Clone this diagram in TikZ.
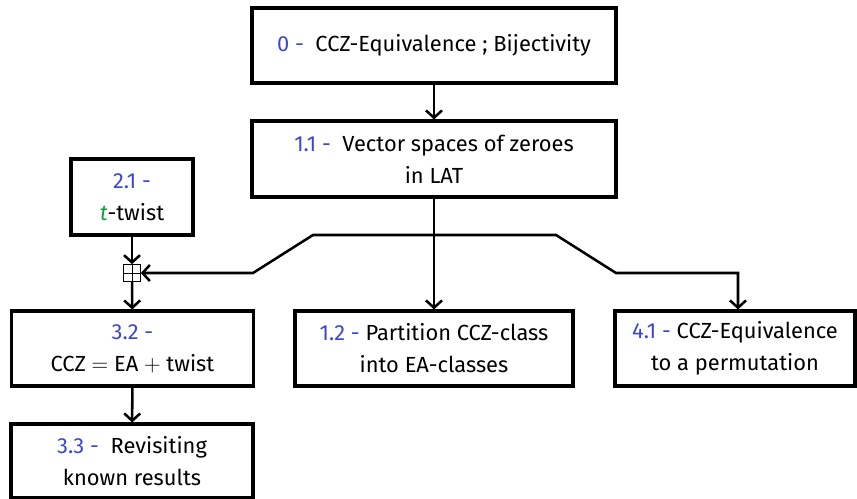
\documentclass[tikz,border=0pt]{standalone}
\usepackage{fontspec}
\setmainfont{Fira Sans}
\usepackage{amssymb}
\usetikzlibrary{arrows.meta}
\definecolor{numblue}{RGB}{60,70,210}
\definecolor{tgreen}{RGB}{20,160,60}
\newcommand{\num}[1]{\textcolor{numblue}{#1}}
\begin{document}
\begin{tikzpicture}[x=0.75pt,y=-0.75pt,
  box/.style={draw,line width=2.3pt,align=center,inner sep=0pt,font=\fontsize{16.4pt}{24pt}\selectfont},
  tip/.tip={Straight Barb[length=5.5pt,width=12pt,line width=1.9pt]},
  arr/.style={line width=1.9pt,-tip},
  conn/.style={line width=1.9pt},
  bplus/.style={draw,line width=0.7pt,minimum width=12.5pt,minimum height=12.5pt,inner sep=0pt,
    path picture={\draw[line width=0.7pt] (path picture bounding box.north) -- (path picture bounding box.south)
      (path picture bounding box.west) -- (path picture bounding box.east);}}]
\useasboundingbox (0,0) rectangle (857,499);
\node[box,minimum width=273pt,minimum height=56.25pt] (b0) at (434,45.5) {\num{0 -}\ \ CCZ-Equivalence ; Bijectivity};
\node[box,minimum width=273pt,minimum height=57pt] (b11) at (434,159) {\num{1.1 -}\ \ Vector spaces of zeroes\\in LAT};
\node[box,minimum width=91.5pt,minimum height=57pt] (b21) at (132,197) {\num{2.1 -}\\\textcolor{tgreen}{\itshape t}-twist};
\node[bplus] (plus) at (132,273) {};
\node[box,minimum width=182pt,minimum height=56.25pt] (b32) at (132.5,348.5) {\num{3.2 -}\\CCZ $=$ EA $+$ twist};
\node[box,minimum width=181.5pt,minimum height=55.5pt] (b33) at (132,461) {\num{3.3 -}\ \ Revisiting\\known results};
\node[box,minimum width=208.5pt,minimum height=56.25pt] (b12) at (434,348.5) {\num{1.2 -} Partition CCZ-class\\into EA-classes};
\node[box,minimum width=180pt,minimum height=56.25pt] (b41) at (735,348.5) {\num{4.1 -} CCZ-Equivalence\\to a permutation};
\coordinate (k1) at (253,273);
\coordinate (k2) at (313,235);
\coordinate (k3) at (556,235);
\coordinate (k4) at (616,273);
\coordinate (k5) at (738,273);
\draw[arr] (b0) -- (b11);
\draw[arr] (b11) -- (b12);
\draw[arr] (b21) -- (plus);
\draw[arr] (plus) -- (b32);
\draw[arr] (b32) -- (b33);
\draw[conn,tip-tip]
  (plus.east) -- (k1) -- (k2) -- (k3) -- (k4) -- (k5) -- (b41.north -| k5);
\end{tikzpicture}
\end{document}
